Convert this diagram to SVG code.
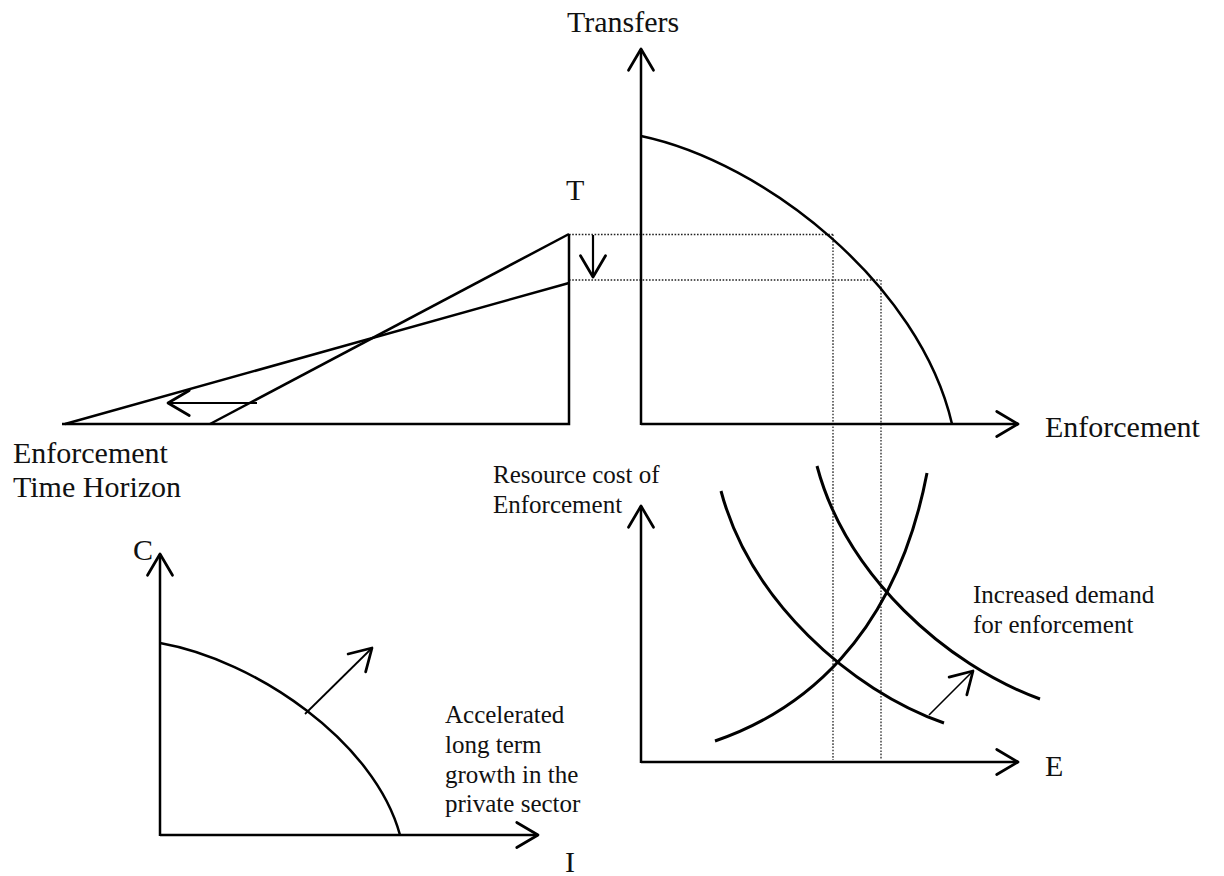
<svg xmlns="http://www.w3.org/2000/svg" width="1224" height="876" viewBox="0 0 1224 876">
<style>
.ax{fill:none;stroke:#000;stroke-width:2.5;}
.cv{fill:none;stroke:#000;stroke-width:2.5;}
.ar{fill:none;stroke:#000;stroke-width:2.2;marker-end:url(#chev);}
.thin{fill:none;stroke:#000;stroke-width:1.6;marker-end:url(#chev);}
.dot{fill:none;stroke:#222;stroke-width:1.3;stroke-dasharray:1.6 1.6;}
.big{font-family:"Liberation Serif","Times New Roman",serif;font-size:30px;fill:#111;}
.sm{font-family:"Liberation Serif","Times New Roman",serif;font-size:25px;fill:#111;}
</style>
<defs>
<marker id="chev" markerUnits="userSpaceOnUse" markerWidth="30" markerHeight="30" viewBox="-20 -12 22 24" refX="0" refY="0" orient="auto">
<path d="M-17,-10 L0,0 L-17,10" fill="none" stroke="#000" stroke-width="2.2" stroke-linejoin="round" stroke-linecap="round"/>
</marker>
</defs>
<rect width="1224" height="876" fill="#fff"/>

<g id="connectors">
<path class="dot" d="M569,234.5 H833 M569,280 H880 M833,234.5 V760 M881,280 V760"/>
</g>

<g id="transfers-panel">
<path class="ax" d="M641,425 V49" marker-end="url(#chev)"/>
<path class="ax" d="M641,424 H1018" marker-end="url(#chev)"/>
<path class="cv" d="M641,136 C765,162 920,285 952,424"/>
<text class="big" x="567" y="32">Transfers</text>
<text class="big" x="1045" y="437">Enforcement</text>
</g>

<g id="time-horizon-panel">
<path class="ax" d="M62,424 H569 V234"/>
<path class="cv" d="M65,424 L569,283"/>
<path class="cv" d="M210,424 L569,234"/>
<path class="ar" d="M257,403 H168"/>
<path class="ar" d="M593,235 V277"/>
<text class="big" x="566" y="200">T</text>
<text class="big" x="13" y="463">Enforcement</text>
<text class="big" x="13" y="497">Time Horizon</text>
</g>

<g id="cost-panel">
<path class="ax" d="M641,763 V506" marker-end="url(#chev)"/>
<path class="ax" d="M641,762 H1018" marker-end="url(#chev)"/>
<path class="cv" d="M715,741 C800,712 895,640 927,473" style="stroke-width:3"/>
<path class="cv" d="M721,491 C750,600 850,690 944,723" style="stroke-width:3"/>
<path class="cv" d="M817,466 C846,575 946,665 1040,699" style="stroke-width:3"/>
<path class="thin" d="M929,715 L973,671"/>
<text class="sm" x="493" y="483">Resource cost of</text>
<text class="sm" x="493" y="513">Enforcement</text>
<text class="sm" x="973" y="603">Increased demand</text>
<text class="sm" x="973" y="633">for enforcement</text>
<text class="big" x="1045" y="776">E</text>
</g>

<g id="growth-panel">
<path class="ax" d="M160,836 V554" marker-end="url(#chev)"/>
<path class="ax" d="M160,835 H538" marker-end="url(#chev)"/>
<path class="cv" d="M160,643 C256,660 375,742 400,835"/>
<path class="ar" d="M305,714 L372,648" style="stroke-width:1.8"/>
<text class="big" x="133" y="560">C</text>
<text class="big" x="565" y="872">I</text>
<text class="sm" x="445" y="723">Accelerated</text>
<text class="sm" x="445" y="753">long term</text>
<text class="sm" x="445" y="783">growth in the</text>
<text class="sm" x="445" y="812">private sector</text>
</g>
</svg>
